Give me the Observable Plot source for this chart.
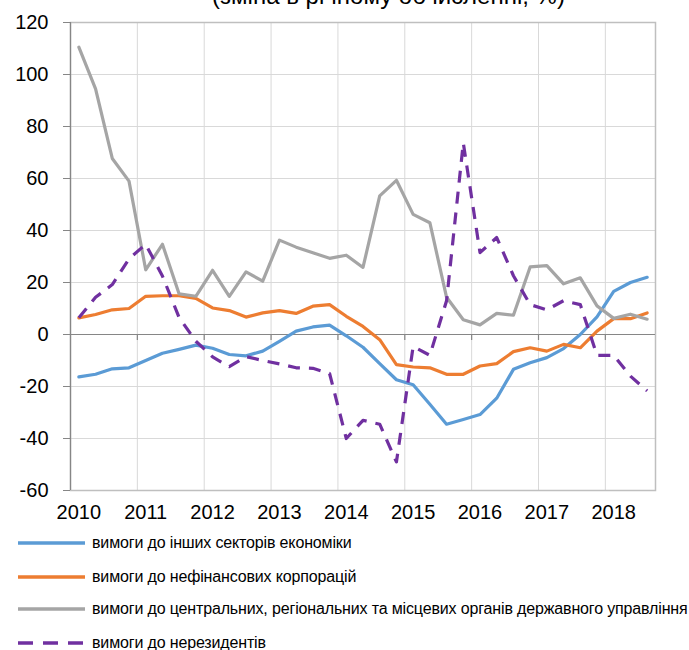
<!DOCTYPE html>
<html>
<head>
<meta charset="utf-8">
<script src="https://cdn.jsdelivr.net/npm/d3@7"></script>
<script src="https://cdn.jsdelivr.net/npm/@observablehq/plot@0.6"></script>
<style>
  body { margin: 0; background: #fff; font-family: "Liberation Sans", Arial, sans-serif; }
  #wrap { position: relative; width: 689px; height: 650px; overflow: hidden; background: #fff; }
  #title { position: absolute; z-index: 2; top: -18px; left: 44px; width: 689px; text-align: center; font-size: 24px; line-height: 28px; color: #000; white-space: nowrap; }
  #chart { position: absolute; z-index: 1; top: 0; left: 0; }
  .lg-row { position: absolute; left: 0; height: 20px; display: flex; align-items: center; font-size: 16px; color: #000; white-space: nowrap; letter-spacing: -0.15px; }
  .lg-row svg { margin-left: 18px; margin-right: 7px; }
</style>
</head>
<body>
<div id="wrap">
  <div id="chart"></div>
  <div id="title">(зміна в річному обчисленні, %)</div>
  <div id="legend"></div>
</div>
<script>
// Year labels (first quarter of each year)
const years = ["2010", "2011", "2012", "2013", "2014", "2015", "2016", "2017", "2018"];
// Quarterly values 2010Q1 … 2018Q3
const otherSectors = [-16.3, -15.3, -13.2, -12.8, -10, -7.2, -5.7, -4.1, -5.3, -7.7, -8.2, -6.4, -2.6, 1.3, 2.9, 3.6, -0.5, -4.9, -11.2, -17.4, -19.3, -26.8, -34.5, -32.7, -30.8, -24.5, -13.4, -10.9, -8.9, -5.4, 0, 6.8, 16.6, 20, 22];
const nonFinCorps = [6.4, 7.7, 9.5, 10, 14.7, 14.9, 14.9, 13.9, 10.2, 9.2, 6.7, 8.3, 9.2, 8.1, 10.9, 11.5, 7, 3.1, -2, -11.6, -12.5, -12.8, -15.3, -15.3, -12.1, -11.2, -6.6, -5.1, -6.4, -3.8, -5.1, 1.3, 6.1, 6.1, 8.3];
const government = [110.5, 94.5, 67.7, 59, 24.9, 34.7, 15.6, 14.7, 24.7, 14.7, 24.1, 20.5, 36.3, 33.6, 31.4, 29.3, 30.5, 25.8, 53.3, 59.3, 46.2, 43, 14.3, 5.7, 3.7, 8.1, 7.4, 26, 26.5, 19.5, 21.8, 11, 6.2, 7.8, 5.9];
const nonResidents = [6.4, 14.3, 19.2, 29.1, 34.7, 22.5, 6.5, -2.6, -8.6, -12.4, -8.5, -10, -11.3, -12.8, -13, -15, -40, -33, -34.5, -49, -4.6, -8, 13, 73.7, 31.5, 37.3, 22.6, 11.5, 9.5, 13, 11.5, -8, -8, -16, -21.7];

const seriesNames = [
  "вимоги до інших секторів економіки",
  "вимоги до нефінансових корпорацій",
  "вимоги до центральних, регіональних та місцевих органів державного управління",
  "вимоги до нерезидентів"
];
const seriesColors = ["#5b9bd5", "#ed7d31", "#a5a5a5", "#7030a0"];
const seriesDash = [null, null, null, "12,9"];
const seriesValues = [otherSectors, nonFinCorps, government, nonResidents];
const yTicks = [-60, -40, -20, 0, 20, 40, 60, 80, 100, 120];

const nQ = otherSectors.length;
const boundaries = d3.range(0, nQ, 4);
const labelPos = years.map((y, k) => 4 * k + 0.5);

const lineMarks = seriesValues.map((vals, s) =>
  Plot.line(vals.map((v, i) => ({q: i + 0.5, v})), {
    x: "q", y: "v",
    stroke: seriesColors[s], strokeWidth: 3.2,
    strokeDasharray: seriesDash[s] || undefined,
    strokeLinejoin: "round", strokeLinecap: seriesDash[s] ? "butt" : "round"
  })
);

const chart = Plot.plot({
  width: 689,
  height: 530,
  marginTop: 22,
  marginBottom: 40,
  marginLeft: 70,
  marginRight: 34,
  style: {fontFamily: "'Liberation Sans', Arial, sans-serif", color: "#000", background: "transparent"},
  x: {domain: [0, nQ], axis: null},
  y: {domain: [-60, 120], axis: null},
  marks: [
    Plot.gridY(yTicks, {stroke: "#d9d9d9", strokeOpacity: 1, strokeWidth: 1}),
    Plot.gridX(boundaries, {stroke: "#d9d9d9", strokeOpacity: 1, strokeWidth: 1}),
    Plot.frame({stroke: "#bfbfbf", strokeWidth: 1.5}),
    Plot.ruleX([0], {stroke: "#868686", strokeWidth: 1.2}),
    Plot.ruleY([0], {stroke: "#868686", strokeWidth: 1.2}),
    Plot.ruleX(boundaries.slice(1), {y1: 0, y2: 0, insetBottom: -6, stroke: "#868686", strokeWidth: 1.2}),
    Plot.axisY({ticks: yTicks, label: null, tickSize: 7, tickPadding: 15, fontSize: 20, stroke: "#868686", tickFormat: d => String(d)}),
    Plot.axisX({ticks: labelPos, label: null, tickSize: 0, tickPadding: 14, fontSize: 20, tickFormat: d => years[Math.round((d - 0.5) / 4)]}),
    ...lineMarks
  ]
});
document.getElementById("chart").appendChild(chart);

// Legend
const legend = document.getElementById("legend");
const rowCenters = [543, 577, 609, 643];
seriesNames.forEach((name, s) => {
  const row = document.createElement("div");
  row.className = "lg-row";
  row.style.top = (rowCenters[s] - 10) + "px";
  const dash = seriesDash[s] ? ` stroke-dasharray="15,10"` : "";
  row.innerHTML = `<svg width="67" height="8"><line x1="0" y1="4" x2="67" y2="4" stroke="${seriesColors[s]}" stroke-width="3.5"${dash}/></svg><span>${name}</span>`;
  legend.appendChild(row);
});
</script>
</body>
</html>
